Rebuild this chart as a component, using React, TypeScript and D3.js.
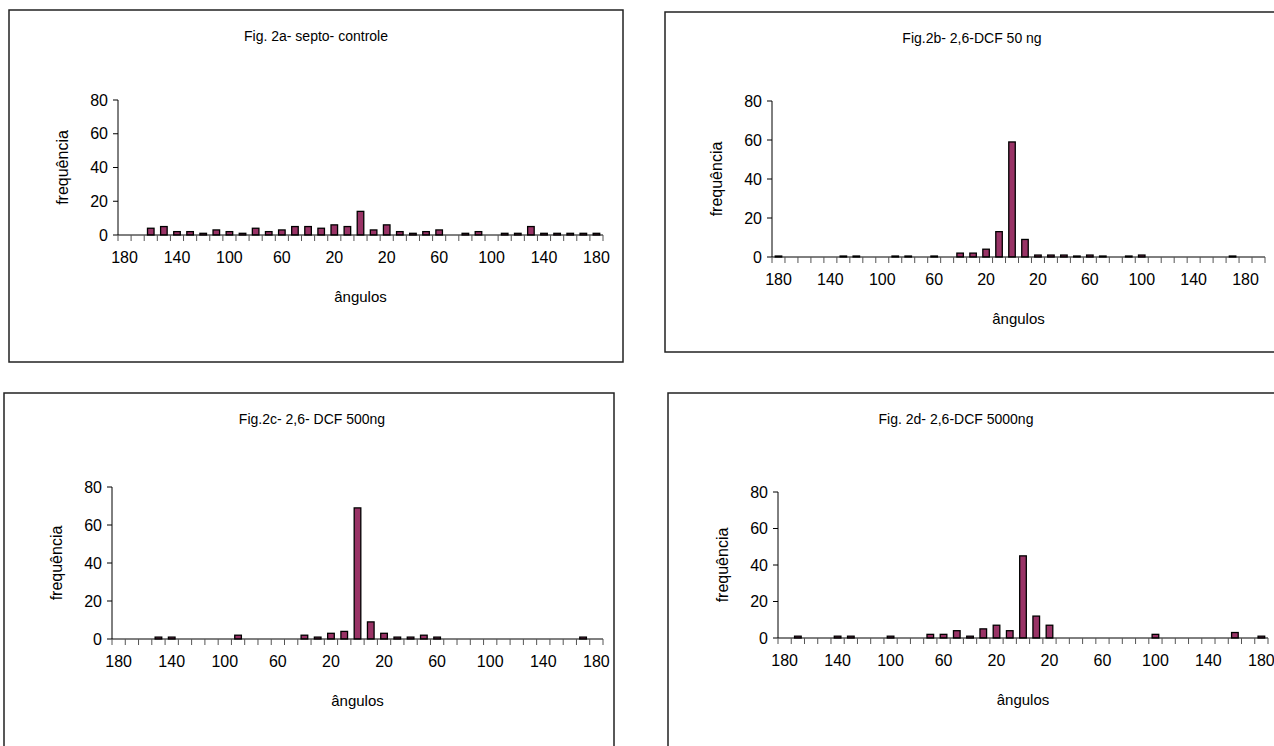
import React from "react";
import * as d3 from "d3";

// angle categories, 180 -> 0 -> 180 in steps of 10
const angles = [
  "180", "170", "160", "150", "140", "130", "120", "110", "100", "90",
  "80", "70", "60", "50", "40", "30", "20", "10", "0", "10",
  "20", "30", "40", "50", "60", "70", "80", "90", "100", "110",
  "120", "130", "140", "150", "160", "170", "180",
];
// fig 2b has one extra empty slot at the end
const anglesB = [...angles, ""];

const yTicks = [0, 20, 40, 60, 80];

const freqA = [0, 0, 4, 5, 2, 2, 1, 3, 2, 1, 4, 2, 3, 5, 5, 4, 6, 5, 14, 3, 6, 2, 1, 2, 3, 0, 1, 2, 0, 1, 1, 5, 1, 1, 1, 1, 1];
const freqB = [0.5, 0, 0, 0, 0, 0.5, 0.5, 0, 0, 0.5, 0.5, 0, 0.5, 0, 2, 2, 4, 13, 59, 9, 1, 1, 1, 0.5, 1, 0.5, 0, 0.5, 1, 0, 0, 0, 0, 0, 0, 0.5, 0, 0];
const freqC = [0, 0, 0, 1, 1, 0, 0, 0, 0, 2, 0, 0, 0, 0, 2, 1, 3, 4, 69, 9, 3, 1, 1, 2, 1, 0, 0, 0, 0, 0, 0, 0, 0, 0, 0, 1, 0];
const freqD = [0, 1, 0, 0, 1, 1, 0, 0, 1, 0, 0, 2, 2, 4, 1, 5, 7, 4, 45, 12, 7, 0, 0, 0, 0, 0, 0, 0, 2, 0, 0, 0, 0, 0, 3, 0, 1];

const titles = [
  "Fig. 2a- septo- controle",
  "Fig.2b- 2,6-DCF 50 ng",
  "Fig.2c- 2,6- DCF 500ng",
  "Fig. 2d- 2,6-DCF 5000ng",
];

const FONT = "'Liberation Sans', Arial, sans-serif";
const BAR = "#993366";

// layout of each framed chart
const panels = [
  { title: titles[0], titleX: 316, cats: angles, values: freqA, box: [9, 10, 623, 362], x0: 118, x1: 603, yTop: 100, yBase: 235 },
  { title: titles[1], titleX: 972, cats: anglesB, values: freqB, box: [665, 12, 1290, 352], x0: 772, x1: 1265, yTop: 101, yBase: 257 },
  { title: titles[2], titleX: 312, cats: angles, values: freqC, box: [4, 393, 614, 760], x0: 112, x1: 603, yTop: 487, yBase: 639 },
  { title: titles[3], titleX: 956, cats: angles, values: freqD, box: [668, 393, 1290, 760], x0: 778, x1: 1268, yTop: 492, yBase: 638 },
];

function Panel({ p }) {
  const x = d3.scaleBand().domain(p.cats.map((_, i) => String(i))).range([p.x0, p.x1]).paddingInner(0).paddingOuter(0);
  const y = d3.scaleLinear().domain([0, 80]).range([p.yBase, p.yTop]);
  const bw = x.bandwidth();
  const [bx0, by0, bx1, by1] = p.box;
  const boundaries = d3.range(p.cats.length + 1).map((i) => p.x0 + i * bw);

  return (
    <g fontFamily={FONT} fill="#000">
      <rect x={bx0} y={by0} width={bx1 - bx0} height={by1 - by0} fill="#fff" stroke="#222" strokeWidth={1.5} />
      <text x={p.titleX} y={by0 + 31} textAnchor="middle" fontSize={14}>{p.title}</text>

      {/* y axis */}
      <line x1={p.x0} x2={p.x0} y1={y(80)} y2={y(0)} stroke="#000" />
      {yTicks.map((t) => (
        <g key={t}>
          <line x1={p.x0 - 5} x2={p.x0} y1={y(t)} y2={y(t)} stroke="#000" />
          <text x={p.x0 - 10} y={y(t) + 5.5} textAnchor="end" fontSize={16}>{t}</text>
        </g>
      ))}
      <text transform={`translate(${p.x0 - 50},${(y(0) + y(80)) / 2}) rotate(-90)`} textAnchor="middle" fontSize={16}>frequência</text>

      {/* bars */}
      {p.values.map((v, i) =>
        v > 0 ? (
          <rect key={i} x={x(String(i)) + bw * 0.25} y={y(v)} width={bw * 0.5} height={y(0) - y(v)} fill={BAR} stroke="#000" strokeWidth={1.3} />
        ) : null
      )}

      {/* x axis */}
      <line x1={p.x0} x2={p.x1} y1={y(0)} y2={y(0)} stroke="#000" />
      {boundaries.map((bx, i) => (
        <line key={i} x1={bx} x2={bx} y1={y(0)} y2={y(0) + 6} stroke="#555" />
      ))}
      {p.cats.map((c, i) =>
        i % 4 === 0 && c !== "" ? (
          <text key={i} x={x(String(i)) + bw / 2} y={y(0) + 28} textAnchor="middle" fontSize={16}>{c}</text>
        ) : null
      )}
      <text x={(p.x0 + p.x1) / 2} y={y(0) + 67} textAnchor="middle" fontSize={15}>ângulos</text>
    </g>
  );
}

export default function App() {
  return (
    <svg width={1274} height={746} style={{ position: "absolute", left: 0, top: 0, background: "#fff" }}>
      <rect width={1274} height={746} fill="#fff" />
      {panels.map((p, i) => (
        <Panel key={i} p={p} />
      ))}
    </svg>
  );
}
